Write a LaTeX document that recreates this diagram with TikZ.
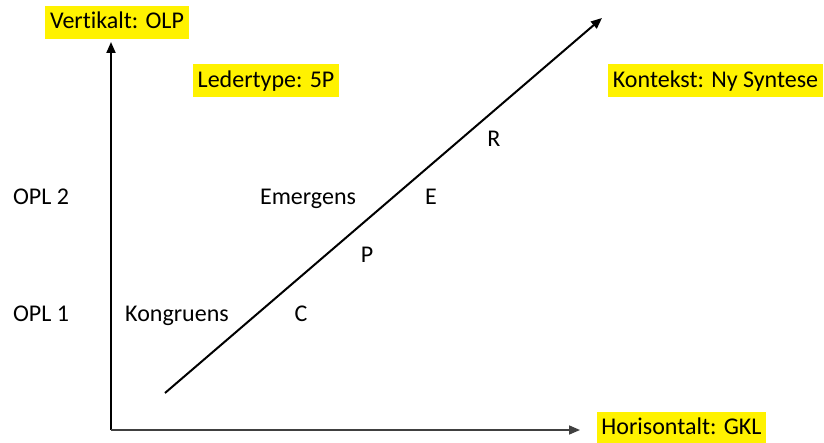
\documentclass[tikz,border=0pt]{standalone}
\usepackage{fontspec}
\setmainfont{Carlito}[Ligatures=NoCommon]
\usetikzlibrary{arrows.meta}
\begin{document}
\begin{tikzpicture}[x=0.5pt,y=-0.5pt,
  lbl/.style={font=\fontsize{12}{14}\selectfont, text height=0.644em, text depth=0pt, inner sep=0pt},
  hl/.style={lbl, fill=yellow, inner xsep=2.3pt, minimum height=16.5pt},
  axis/.style={line width=1pt, -{Triangle[length=5.5pt,width=4.5pt]}}]
\useasboundingbox[fill=white] (0,0) rectangle (824,443);
% axes
\coordinate (origin) at (111,430);
\coordinate (ytop) at (111,42);
\coordinate (xend) at (580,430);
\coordinate (dstart) at (165,393);
\coordinate (dend) at (602,18);
\draw[axis] (origin) -- (ytop);
\draw[axis, line width=0.8pt, draw=black!75] (origin) -- (xend);
\draw[axis] (dstart) -- (dend);
% highlighted labels
\node[hl] (vert) at (117,22.5) {Vertikalt: OLP};
\node[hl] (leder) at (266,81) {Ledertype: 5P};
\node[hl] (kontekst) at (715.5,81) {Kontekst: Ny Syntese};
\node[hl] (hor) at (681.5,428) {Horisontalt: GKL};
% plain labels
\node[lbl] (opl2) at (41,198) {OPL 2};
\node[lbl] (opl1) at (41,315) {OPL 1};
\node[lbl] (kong) at (177,315) {Kongruens};
\node[lbl] (emer) at (308,198) {Emergens};
\node[lbl] (c) at (301,315) {C};
\node[lbl] (p) at (367,256) {P};
\node[lbl] (e) at (431,198) {E};
\node[lbl] (r) at (494,140) {R};
\end{tikzpicture}
\end{document}
